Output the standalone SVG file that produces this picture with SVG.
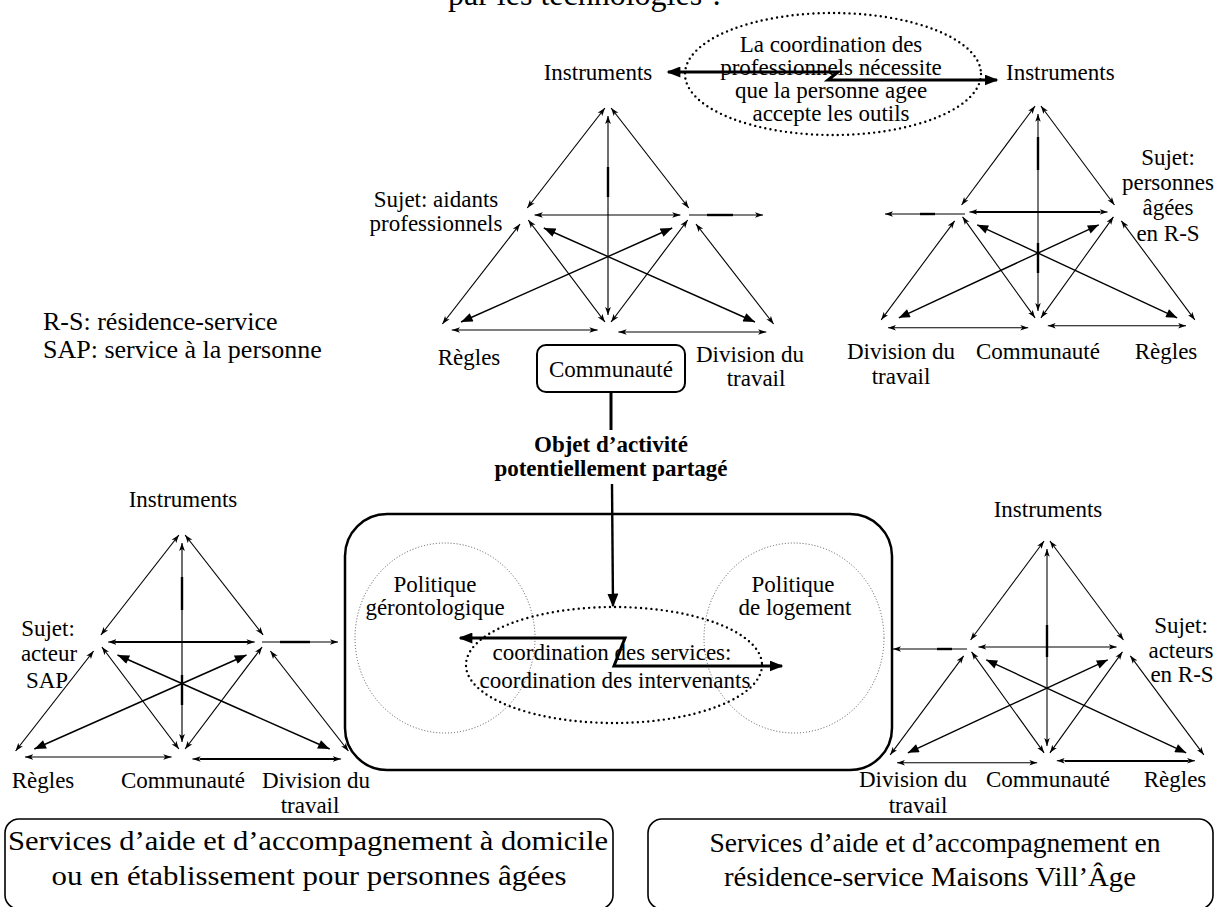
<svg xmlns="http://www.w3.org/2000/svg" width="1229" height="907" viewBox="0 0 1229 907">
<defs>
<style>
text { font-family: "Liberation Serif", "Times New Roman", "DejaVu Serif", serif; fill: #000; font-size: 23px; }
.c { text-anchor: middle; }
.b { font-weight: bold; }
.leg { font-size: 26px; }
.box { font-size: 27px; }
.frame { fill: none; stroke: #000; }
.dots { fill: none; stroke: #000; stroke-width: 2.4; stroke-dasharray: 0 5.2; stroke-linecap: round; }
.fdots { fill: none; stroke: #555; stroke-width: 1; stroke-dasharray: 1 2; }
.thin { fill: none; stroke: #000; stroke-width: 1.1; }
.heavy { fill: none; stroke: #000; stroke-width: 2.4; }
.bold { fill: none; stroke: #000; stroke-width: 3; }
</style>
<marker id="sa" viewBox="0 0 10 8" refX="10" refY="4" markerWidth="8" markerHeight="6.4" markerUnits="userSpaceOnUse" orient="auto-start-reverse"><path d="M0,0.5 L10,4 L0,7.5 L2.5,4 Z" fill="#000"/></marker>
<marker id="fa" viewBox="0 0 10 8" refX="10" refY="4" markerWidth="12" markerHeight="9" markerUnits="userSpaceOnUse" orient="auto-start-reverse"><path d="M0,0 L10,4 L0,8 Z" fill="#000"/></marker>
<marker id="ba" viewBox="0 0 10 8" refX="9" refY="4" markerWidth="14" markerHeight="11" markerUnits="userSpaceOnUse" orient="auto-start-reverse"><path d="M0,0 L10,4 L0,8 Z" fill="#000"/></marker>
<g id="tri" stroke="#000" fill="none">
  <g stroke-width="1.1" marker-start="url(#sa)" marker-end="url(#sa)">
    <line x1="-3" y1="1" x2="-78" y2="101"/>
    <line x1="3" y1="1" x2="78" y2="101"/>
    <line x1="0" y1="9" x2="0" y2="208"/>
    <line x1="-71" y1="108" x2="70" y2="108"/>
    <line x1="-85" y1="117" x2="-160" y2="217"/>
    <line x1="-77" y1="113" x2="-3" y2="215"/>
    <line x1="77" y1="113" x2="3" y2="215"/>
    <line x1="85" y1="117" x2="160" y2="217"/>
    <line x1="-151" y1="223" x2="-10" y2="223"/>
    <line x1="10" y1="225" x2="153" y2="225"/>
  </g>
  <g stroke-width="1.4" marker-start="url(#fa)" marker-end="url(#fa)">
    <line x1="-62" y1="121" x2="142" y2="215"/>
    <line x1="-142" y1="215" x2="62" y2="121"/>
  </g>
</g>
</defs>
<rect width="1229" height="907" fill="#fff"/>

<g id="title">
  <text x="448" y="5" style="font-size:32px">par les technologies ?</text>
</g>

<g id="legend">
  <text class="leg" x="43" y="330">R-S: résidence-service</text>
  <text class="leg" x="43" y="358">SAP: service à la personne</text>
</g>

<!-- Top-left triangle -->
<g id="triangle-aidants">
  <use href="#tri" transform="translate(608,107) scale(1.035,1)"/>
  <line class="heavy" x1="608" y1="167" x2="608" y2="197"/>
  <text class="c" x="598" y="80">Instruments</text>
  <text class="c" x="436" y="207">Sujet: aidants</text>
  <text class="c" x="436" y="231">professionnels</text>
  <text class="c" x="469" y="365">Règles</text>
  <text class="c" x="750" y="362">Division du</text>
  <text class="c" x="756" y="386">travail</text>
</g>
<g id="communaute-box">
  <rect class="frame" x="537" y="345" width="148" height="47" rx="9" stroke-width="2"/>
  <text class="c" x="611" y="377">Communauté</text>
</g>

<!-- Top ellipse -->
<g id="coordination-pro">
  <ellipse class="dots" cx="833" cy="74" rx="148" ry="61"/>
  <text class="c" x="831" y="52">La coordination des</text>
  <text class="c" x="831" y="75">professionnels nécessite</text>
  <text class="c" x="831" y="98">que la personne agee</text>
  <text class="c" x="831" y="121">accepte les outils</text>
</g>

<!-- Top-right triangle -->
<g id="triangle-personnes">
  <use href="#tri" transform="translate(1038,105) scale(-0.98,0.99)"/>
  <line class="heavy" x1="1038" y1="137" x2="1038" y2="170"/>
  <line class="heavy" x1="1038" y1="243" x2="1038" y2="273"/>
  <line x1="975" y1="212" x2="1100" y2="212" stroke="#000" stroke-width="2.2"/>
  <text x="1006" y="80">Instruments</text>
  <text class="c" x="1168" y="165">Sujet:</text>
  <text class="c" x="1168" y="190">personnes</text>
  <text class="c" x="1168" y="215">âgées</text>
  <text class="c" x="1168" y="241">en R-S</text>
  <text class="c" x="901" y="359">Division du</text>
  <text class="c" x="901" y="384">travail</text>
  <text class="c" x="1038" y="359">Communauté</text>
  <text class="c" x="1166" y="359">Règles</text>
</g>

<!-- Bottom-left triangle -->
<g id="triangle-sap">
  <use href="#tri" transform="translate(182,534) scale(1.04,1)"/>
  <line class="heavy" x1="182" y1="577" x2="182" y2="610"/>
  <line class="heavy" x1="182" y1="675" x2="182" y2="705"/>
  <line x1="115" y1="642" x2="248" y2="642" stroke="#000" stroke-width="2.2"/>
  <line x1="200" y1="759" x2="335" y2="759" stroke="#000" stroke-width="1.8"/>
  <text class="c" x="183" y="507">Instruments</text>
  <text class="c" x="48" y="636">Sujet:</text>
  <text class="c" x="49" y="661">acteur</text>
  <text class="c" x="47" y="688">SAP</text>
  <text class="c" x="43" y="788">Règles</text>
  <text class="c" x="183" y="788">Communauté</text>
  <text class="c" x="316" y="788">Division du</text>
  <text class="c" x="310" y="813">travail</text>
</g>

<!-- Bottom-right triangle -->
<g id="triangle-rs">
  <use href="#tri" transform="translate(1047,540) scale(-0.98,0.99)"/>
  <line class="heavy" x1="1047" y1="625" x2="1047" y2="657"/>
  <line x1="1065" y1="761" x2="1188" y2="761" stroke="#000" stroke-width="2"/>
  <text class="c" x="1048" y="517">Instruments</text>
  <text class="c" x="1181" y="633">Sujet:</text>
  <text class="c" x="1181" y="658">acteurs</text>
  <text class="c" x="1182" y="682">en R-S</text>
  <text class="c" x="913" y="787">Division du</text>
  <text class="c" x="918" y="813">travail</text>
  <text class="c" x="1048" y="787">Communauté</text>
  <text class="c" x="1175" y="787">Règles</text>
</g>

<!-- Central shared object -->
<g id="objet-partage">
  <rect class="frame" x="345" y="514" width="547" height="256" rx="42" stroke-width="2.5"/>
  <ellipse class="fdots" cx="445" cy="638" rx="90" ry="95"/>
  <ellipse class="fdots" cx="794" cy="638" rx="90" ry="95"/>
  <ellipse class="dots" cx="614" cy="665" rx="148" ry="58"/>
  <text class="c" x="435" y="592">Politique</text>
  <text class="c" x="435" y="615">gérontologique</text>
  <text class="c" x="793" y="592">Politique</text>
  <text class="c" x="795" y="615">de logement</text>
  <text class="c" x="612" y="660">coordination des services:</text>
  <text class="c" x="615" y="688">coordination des intervenants</text>
</g>
<g id="objet-label">
  <text class="c b" x="611" y="452">Objet d’activité</text>
  <text class="c b" x="611" y="476">potentiellement partagé</text>
</g>

<!-- Bottom boxes -->
<g id="services-domicile">
  <rect class="frame" x="5" y="819" width="608" height="90" rx="14" stroke-width="1.6"/>
  <text class="box" x="8" y="850" textLength="600" lengthAdjust="spacingAndGlyphs">Services d’aide et d’accompagnement à domicile</text>
  <text class="box c" x="309" y="885" textLength="515" lengthAdjust="spacingAndGlyphs">ou en établissement pour personnes âgées</text>
</g>
<g id="services-residence">
  <rect class="frame" x="648" y="819" width="565" height="90" rx="14" stroke-width="1.6"/>
  <text class="box c" x="935" y="852" textLength="451" lengthAdjust="spacingAndGlyphs">Services d’aide et d’accompagnement en</text>
  <text class="box c" x="930" y="886" textLength="412" lengthAdjust="spacingAndGlyphs">résidence-service Maisons Vill’Âge</text>
</g>

<!-- Connectors -->
<g id="connectors">
  <polyline class="bold" stroke-width="2.6" points="668,72 838,72 828,80 997,80" marker-start="url(#ba)" marker-end="url(#ba)"/>
  <line class="thin" x1="689" y1="215" x2="763" y2="215" marker-end="url(#sa)"/>
  <line class="heavy" x1="707" y1="215" x2="733" y2="215"/>
  <line class="thin" x1="965" y1="214" x2="885" y2="214" marker-end="url(#sa)"/>
  <line class="heavy" x1="920" y1="214" x2="935" y2="214"/>
  <line class="thin" x1="262" y1="642" x2="338" y2="642" marker-end="url(#sa)"/>
  <line class="heavy" x1="280" y1="642" x2="310" y2="642"/>
  <line class="thin" x1="967" y1="649" x2="893" y2="649" marker-end="url(#sa)"/>
  <line class="heavy" x1="937" y1="649" x2="952" y2="649"/>
  <line class="bold" x1="611" y1="393" x2="611" y2="430"/>
  <line class="heavy" x1="612" y1="484" x2="613" y2="606" marker-end="url(#ba)"/>
  <polyline class="bold" points="460,638 625,638 614,666 782,666" marker-start="url(#ba)" marker-end="url(#ba)"/>
</g>
</svg>
